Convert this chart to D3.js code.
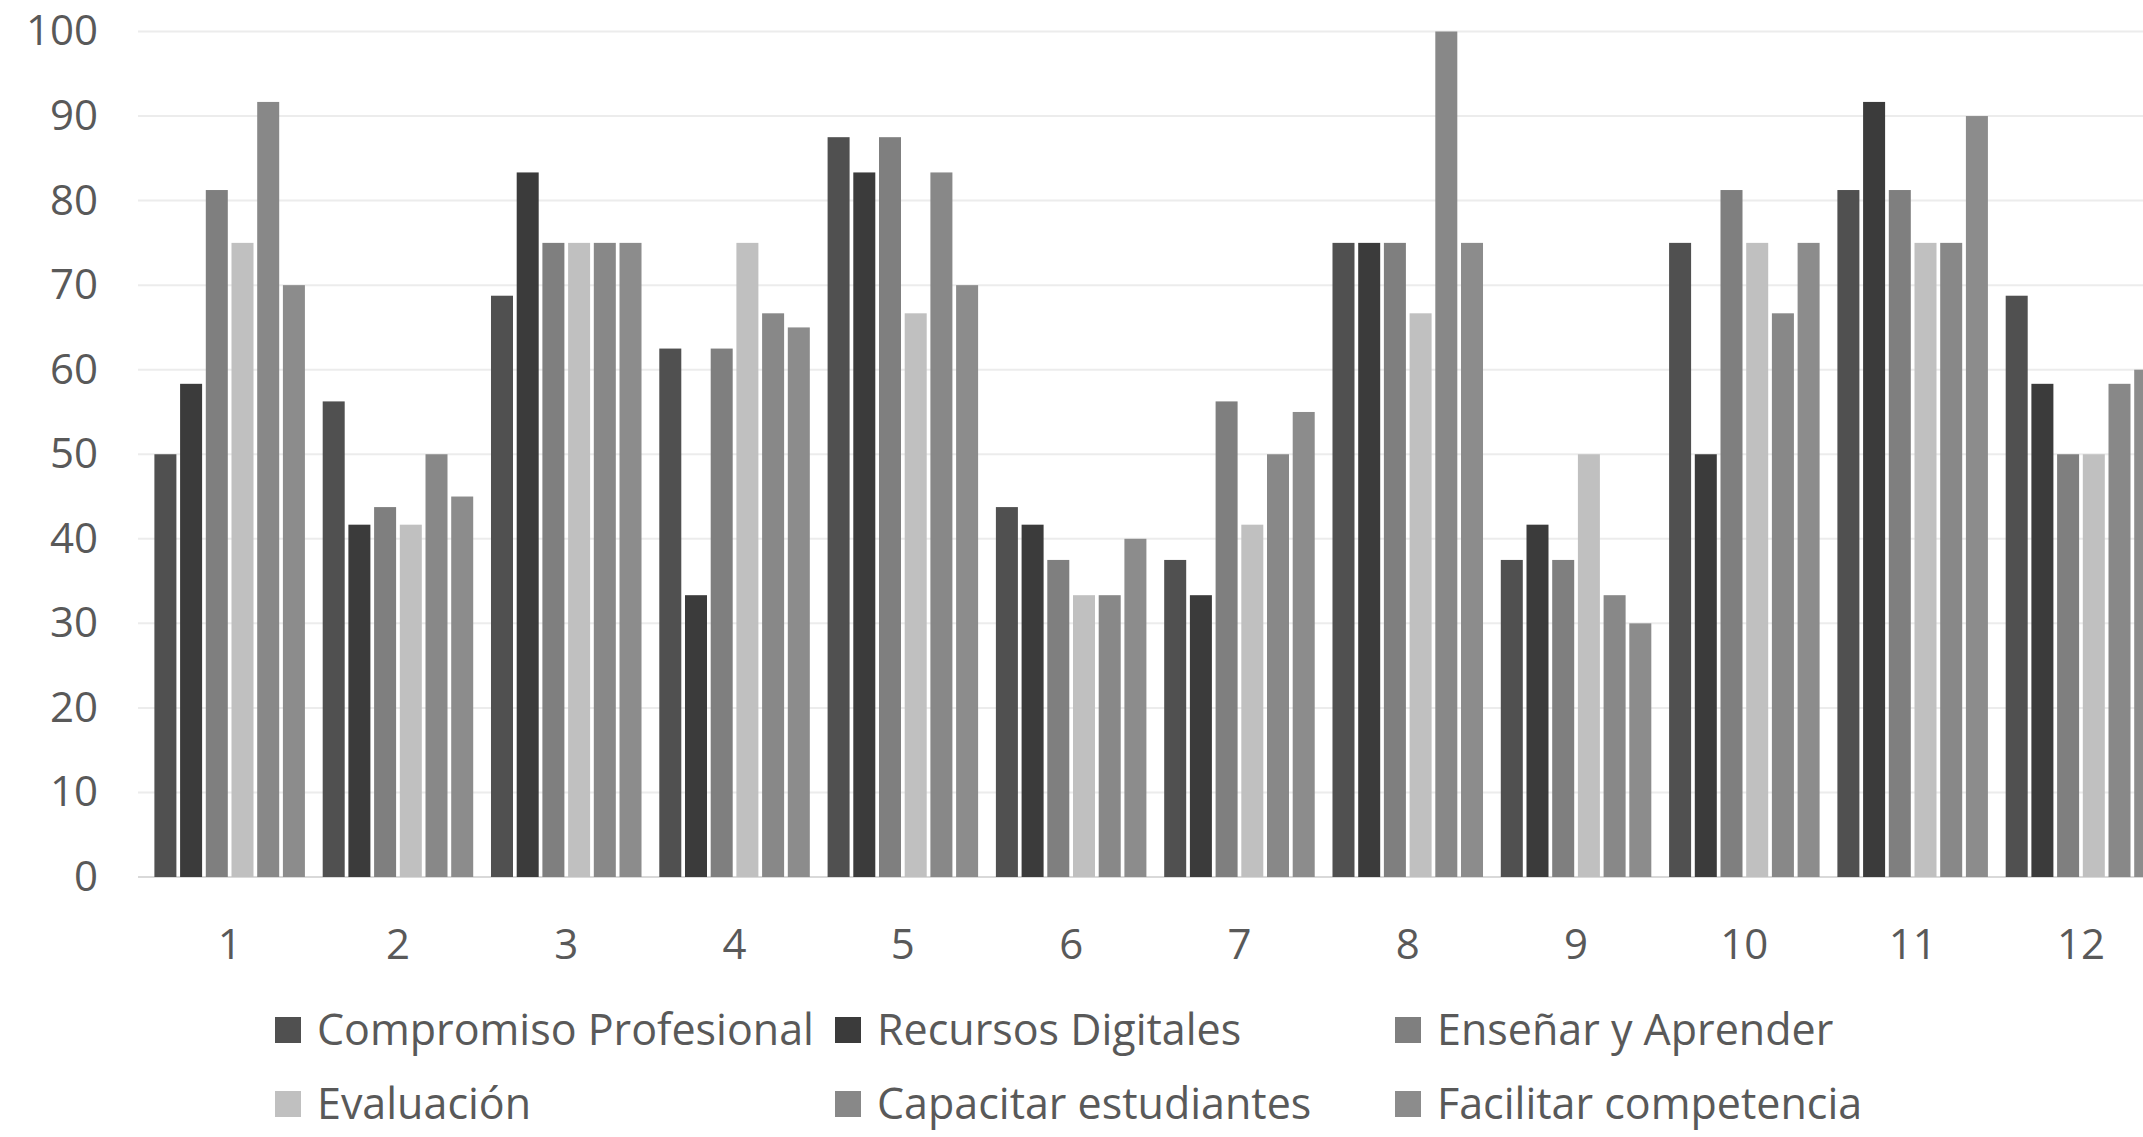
<!DOCTYPE html>
<html>
<head>
<meta charset="utf-8">
<style>
  body { margin:0; background:#fff; overflow:hidden; }
  svg { display:block; }
  text { font-family:"Open Sans", sans-serif; fill:#595959; }
</style>
<script src="https://cdn.jsdelivr.net/npm/d3@7"></script>
</head>
<body>
<svg id="chart" width="2143" height="1137"></svg>
<script>
// data
var categories = ["1","2","3","4","5","6","7","8","9","10","11","12"];
var seriesNames = ["Compromiso Profesional","Recursos Digitales","Enseñar y Aprender",
                   "Evaluación","Capacitar estudiantes","Facilitar competencia"];
var compromiso = [50, 56.25, 68.75, 62.5, 87.5, 43.75, 37.5, 75, 37.5, 75, 81.25, 68.75];
var recursos   = [58.33, 41.67, 83.33, 33.33, 83.33, 41.67, 33.33, 75, 41.67, 50, 91.67, 58.33];
var ensenar    = [81.25, 43.75, 75, 62.5, 87.5, 37.5, 56.25, 75, 37.5, 81.25, 81.25, 50];
var evaluacion = [75, 41.67, 75, 75, 66.67, 33.33, 41.67, 66.67, 50, 75, 75, 50];
var capacitar  = [91.67, 50, 75, 66.67, 83.33, 33.33, 50, 100, 33.33, 66.67, 75, 58.33];
var facilitar  = [70, 45, 75, 65, 70, 40, 55, 75, 30, 75, 90, 60];
var yTicks = [0,10,20,30,40,50,60,70,80,90,100];

var seriesValues = [compromiso, recursos, ensenar, evaluacion, capacitar, facilitar];
var colors = ["#505050","#3b3b3b","#7f7f7f","#c0c0c0","#888888","#8c8c8c"];

var svg = d3.select("#chart");
var plotLeft = 145.5, step = 168.3, plotTop = 31.5, plotBottom = 877;

// the plot runs past the right edge of the picture, as in the original
var x0 = d3.scaleBand().domain(categories)
  .range([plotLeft, plotLeft + step * categories.length]).padding(0);
var x1 = d3.scaleBand().domain(d3.range(seriesNames.length))
  .range([0, x0.bandwidth()]).paddingInner(0.144).paddingOuter(0.346);
var y = d3.scaleLinear().domain([0,100]).range([plotBottom, plotTop]);

var color = d3.scaleOrdinal().domain(d3.range(seriesNames.length)).range(colors);

// gridlines
svg.append("g").selectAll("line").data(yTicks).join("line")
  .attr("x1", 138).attr("x2", 2143)
  .attr("y1", function(d){ return y(d); }).attr("y2", function(d){ return y(d); })
  .attr("stroke", function(d){ return d === 0 ? "#d9d9d9" : "#ececec"; })
  .attr("stroke-width", 2);

// y axis labels
var yAxis = svg.append("g").attr("transform","translate(98,0)")
  .call(d3.axisLeft(y).tickValues(yTicks).tickSize(0).tickPadding(0));
yAxis.select(".domain").remove();
yAxis.selectAll("text").attr("font-size", 42).attr("fill","#595959")
  .attr("font-family", "'Open Sans', sans-serif");

// bars
var rows = categories.map(function(c, i){
  return { cat: c, vals: seriesValues.map(function(s, j){ return { k: j, v: s[i] }; }) };
});
var groups = svg.append("g").selectAll("g").data(rows).join("g")
  .attr("transform", function(d){ return "translate(" + x0(d.cat) + ",0)"; });
groups.selectAll("rect").data(function(d){ return d.vals; }).join("rect")
  .attr("x", function(d){ return x1(d.k); })
  .attr("width", x1.bandwidth())
  .attr("y", function(d){ return y(d.v); })
  .attr("height", function(d){ return y(0) - y(d.v); })
  .attr("fill", function(d){ return color(d.k); });

// x axis labels
var xAxis = svg.append("g").attr("transform","translate(0," + plotBottom + ")")
  .call(d3.axisBottom(x0).tickSize(0).tickPadding(52));
xAxis.select(".domain").remove();
xAxis.selectAll("text").attr("font-size", 42).attr("fill","#595959")
  .attr("font-family", "'Open Sans', sans-serif");

// legend, two rows of three columns
var legend = svg.append("g").selectAll("g").data(seriesNames).join("g")
  .attr("transform", function(d, i){
    return "translate(" + (275 + (i % 3) * 560) + "," + (1030 + Math.floor(i / 3) * 74) + ")";
  });
legend.append("rect").attr("x", 0).attr("y", -13).attr("width", 26).attr("height", 26)
  .attr("fill", function(d, i){ return color(i); });
legend.append("text").attr("x", 42).attr("y", 0).attr("dy", "0.35em")
  .attr("font-size", 43).text(function(d){ return d; });
</script>
</body>
</html>
